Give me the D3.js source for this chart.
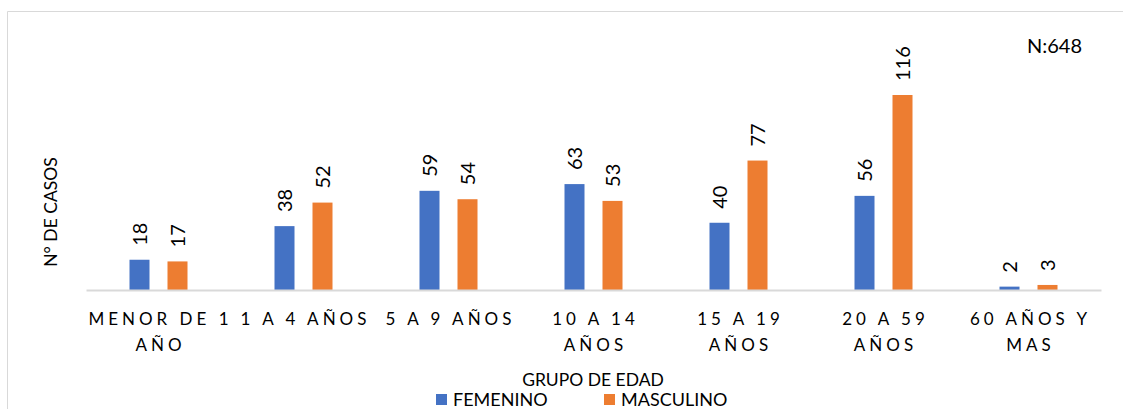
<!DOCTYPE html>
<html><head><meta charset="utf-8">
<script src="https://cdn.jsdelivr.net/npm/d3@7"></script>
<style>body{margin:0;background:#fff}svg{display:block}text{font-family:Lato,"Noto Sans",sans-serif;fill:#000}</style>
</head><body><div id="chart"></div>
<script>
const categories = ["MENOR DE 1 AÑO","1 A 4 AÑOS","5 A 9 AÑOS","10 A 14 AÑOS","15 A 19 AÑOS","20 A 59 AÑOS","60 AÑOS Y MAS"];
const tickLines = [["MENOR DE 1","AÑO"],["1 A 4 AÑOS"],["5 A 9 AÑOS"],["10 A 14","AÑOS"],["15 A 19","AÑOS"],["20 A 59","AÑOS"],["60 AÑOS Y","MAS"]];
const seriesNames = ["FEMENINO","MASCULINO"];
const femenino = [18,38,59,63,40,56,2];
const masculino = [17,52,54,53,77,116,3];
const colors = ["#4472C4","#ED7D31"];

const W=1123,H=409;
const svg=d3.select("#chart").append("svg").attr("width",W).attr("height",H);
// frame
svg.append("path").attr("d",`M7.5,${H+2} V11.5 H${W+2}`).attr("fill","none").attr("stroke","#d9d9d9").attr("stroke-width",1);

const plot={left:86,right:1101,bottom:290};
const x0=d3.scaleBand().domain(categories).range([plot.left,plot.right]);
const x1=d3.scaleBand().domain(seriesNames).range([0,58]).paddingInner(18/38);
const y=d3.scaleLinear().domain([0,116]).range([plot.bottom,95]);

const series=[femenino,masculino];
const g=svg.append("g");
seriesNames.forEach((s,si)=>{
  const vals=series[si];
  g.selectAll(".b"+si).data(categories).enter().append("rect")
    .attr("x",c=>x0(c)+x0.bandwidth()/2-29+x1(s))
    .attr("y",(c,i)=>y(vals[i]))
    .attr("width",x1.bandwidth())
    .attr("height",(c,i)=>plot.bottom-y(vals[i]))
    .attr("fill",colors[si]);
  g.selectAll(".l"+si).data(categories).enter().append("text")
    .attr("transform",(c,i)=>{const cx=x0(c)+x0.bandwidth()/2-29+x1(s)+x1.bandwidth()/2;return `translate(${cx},${y(vals[i])-14}) rotate(-90)`;})
    .attr("dy","0.36em").attr("font-size",20).attr("text-anchor","start")
    .text((c,i)=>vals[i]);
});

// axis line
const xAxis=d3.axisBottom(x0).tickSize(0).tickFormat("");
const ax=svg.append("g").attr("transform",`translate(0,${plot.bottom})`).call(xAxis);
ax.select(".domain").attr("stroke","#d9d9d9").attr("stroke-width",2);

// tick labels
categories.forEach((c,i)=>{
  const t=svg.append("text").attr("text-anchor","middle").attr("font-size",17)
    .attr("letter-spacing","4px").attr("x",x0(c)+x0.bandwidth()/2+2).attr("y",325);
  tickLines[i].forEach((ln,j)=>t.append("tspan").attr("x",x0(c)+x0.bandwidth()/2+2).attr("y",325+26*j).text(ln));
});

// axis titles
svg.append("text").attr("text-anchor","middle").attr("font-size",17.5).attr("x",593).attr("y",386).text("GRUPO DE EDAD");
svg.append("text").attr("text-anchor","middle").attr("font-size",17.5)
  .attr("transform","translate(57,212) rotate(-90)").text("N° DE CASOS");
svg.append("text").attr("font-size",20).attr("x",1027).attr("y",53).text("N:648");

// legend
const legX=[436,604];
seriesNames.forEach((s,i)=>{
  svg.append("rect").attr("x",legX[i]).attr("y",394).attr("width",11).attr("height",11).attr("fill",colors[i]);
  svg.append("text").attr("font-size",18).attr("x",legX[i]+17).attr("y",406).text(s);
});
</script></body></html>
